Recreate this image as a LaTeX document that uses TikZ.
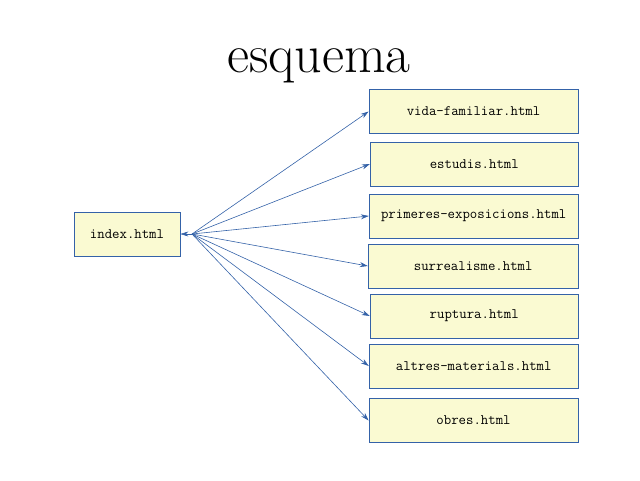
\documentclass[tikz,border=0pt]{standalone}
\usetikzlibrary{arrows.meta}
\definecolor{boxfill}{RGB}{250,250,210}
\definecolor{boxline}{RGB}{52,98,168}
\tikzset{
  page/.style={inner sep=0pt, outer sep=0pt},
  filebox/.style={draw=boxline, fill=boxfill, line width=0.8pt, rectangle,
    minimum height=44pt, inner sep=0pt,
    font=\fontsize{14.4}{16}\selectfont\ttfamily, text=black},
  link/.style={draw=boxline, line width=0.6pt, -{Stealth[length=8pt,width=5pt]}}
}
\begin{document}
\begin{tikzpicture}[x=1pt,y=-1pt]
\useasboundingbox (0,0) rectangle (640,480);
\node[page, font=\fontsize{54}{64}\selectfont] (title) at (319,66) {esquema};
\node[filebox, minimum width=106pt] (index) at (127,234) {index.html};
\node[filebox, minimum width=209pt] (vida) at (473.5,111.5) {vida-familiar.html};
\node[filebox, minimum width=208pt] (estudis) at (474.3,164) {estudis.html};
\node[filebox, minimum width=209pt] (primeres) at (473.7,216) {primeres-exposicions.html};
\node[filebox, minimum width=210pt] (surreal) at (473.2,266) {surrealisme.html};
\node[filebox, minimum width=208pt] (ruptura) at (474.2,316) {ruptura.html};
\node[filebox, minimum width=209pt] (altres) at (473.7,366) {altres-materials.html};
\node[filebox, minimum width=209pt] (obres) at (473.5,420.5) {obres.html};
\coordinate (hub) at (192,234);
\draw[link] (hub) -- (index.east);
\foreach \t in {vida,estudis,primeres,surreal,ruptura,altres,obres}
  \draw[link] (hub) -- (\t.west);
\end{tikzpicture}
\end{document}
